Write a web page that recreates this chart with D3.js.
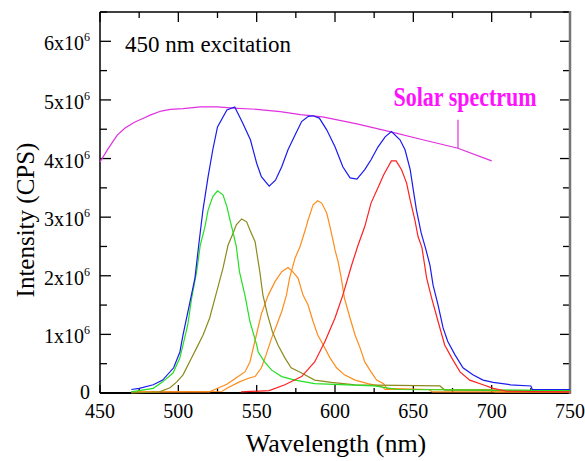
<!DOCTYPE html>
<html>
<head>
<meta charset="utf-8">
<script src="https://cdn.jsdelivr.net/npm/d3@7"></script>
<style>
  body { margin: 0; background: #fff; }
  text { font-family: "Liberation Serif", "Times New Roman", serif; fill: #000; }
</style>
</head>
<body>
<script>
// values are in units of 10^6 counts per second

var solarWl  = [450, 455, 461, 466, 472, 477, 482, 489, 495, 503, 514, 525, 535, 550, 565, 578, 592, 614, 635, 656, 678, 700];
var solarVal = [3.94, 4.16, 4.40, 4.52, 4.62, 4.68, 4.74, 4.81, 4.84, 4.85, 4.88, 4.88, 4.86, 4.84, 4.80, 4.75, 4.71, 4.59, 4.46, 4.32, 4.18, 3.96];

var blueWl  = [470, 475, 484, 490, 497, 501, 503, 507, 510.6, 513, 515.7, 519, 522, 525, 531, 536, 541, 546, 550, 553, 558, 562, 566, 570, 574.5, 578.7, 583, 586, 590, 594.7, 600, 605, 609.6, 614, 619, 623, 627.5, 632, 636, 641.5, 644.7, 648, 650, 652, 655, 658, 660.6, 662.6, 665.8, 669, 672, 676.6, 681.7, 688, 694.5, 701, 712, 725, 726, 750];
var blueVal = [0.06, 0.08, 0.14, 0.22, 0.43, 0.70, 0.99, 1.50, 1.96, 2.52, 3.12, 3.69, 4.15, 4.54, 4.83, 4.88, 4.61, 4.32, 3.92, 3.69, 3.53, 3.63, 3.86, 4.15, 4.40, 4.63, 4.72, 4.73, 4.69, 4.49, 4.20, 3.86, 3.67, 3.65, 3.81, 3.98, 4.20, 4.37, 4.46, 4.32, 4.15, 3.81, 3.46, 3.12, 2.73, 2.45, 2.18, 1.84, 1.50, 1.11, 0.88, 0.65, 0.43, 0.31, 0.22, 0.18, 0.14, 0.12, 0.06, 0.06];

var greenWl  = [470, 484, 490, 496.6, 501, 503, 506, 508.5, 511.7, 514, 517, 519, 522, 525, 528.5, 531, 533, 535, 537, 539, 542.5, 545.7, 550, 551, 555, 559.6, 566, 574.5, 587, 608, 625, 640, 700, 750];
var greenVal = [0.02, 0.08, 0.19, 0.34, 0.60, 0.82, 1.16, 1.62, 2.07, 2.52, 2.84, 3.12, 3.35, 3.45, 3.38, 3.18, 2.95, 2.73, 2.50, 2.07, 1.67, 1.22, 0.82, 0.70, 0.53, 0.39, 0.28, 0.22, 0.16, 0.14, 0.12, 0.06, 0.05, 0.04];

var oliveWl  = [470, 488, 494.7, 499, 503, 508.5, 511.7, 515.8, 520, 524.5, 528.5, 531.7, 535, 537, 540.4, 543.6, 545.7, 549, 552, 554, 557, 560, 563.6, 568, 572, 578.7, 587, 597.8, 612.8, 667, 670, 750];
var oliveVal = [0.0, 0.02, 0.09, 0.19, 0.31, 0.60, 0.77, 0.99, 1.28, 1.73, 2.13, 2.52, 2.73, 2.87, 2.97, 2.92, 2.78, 2.58, 2.07, 1.67, 1.33, 1.05, 0.82, 0.60, 0.43, 0.34, 0.22, 0.18, 0.14, 0.12, 0.05, 0.04];

var orange1Wl  = [470, 520, 525, 531, 537, 542.5, 545.7, 549, 553, 557.4, 561.7, 566, 570, 573, 576.4, 579.6, 582.8, 586, 589, 592.5, 596.8, 601, 606, 612.8, 621, 630, 632, 700, 702, 750];
var orange1Val = [0.02, 0.02, 0.08, 0.15, 0.26, 0.36, 0.53, 0.90, 1.35, 1.67, 1.90, 2.07, 2.14, 2.07, 1.96, 1.67, 1.50, 1.22, 0.99, 0.82, 0.60, 0.43, 0.31, 0.22, 0.16, 0.11, 0.06, 0.06, 0.02, 0.02];

var orange2Wl  = [470, 528, 531, 539, 545.7, 549, 553, 556, 559.6, 562.8, 566, 569, 571, 574.5, 577.7, 581, 582.8, 586, 589, 591.5, 594.7, 596.8, 598.7, 600, 602, 604, 606, 609.6, 612.8, 616, 619, 623, 626.6, 631, 633, 660, 662, 750];
var orange2Val = [0.02, 0.03, 0.08, 0.19, 0.26, 0.28, 0.43, 0.65, 0.94, 1.16, 1.39, 1.67, 1.96, 2.30, 2.50, 2.78, 2.95, 3.21, 3.28, 3.24, 3.07, 2.84, 2.61, 2.44, 2.24, 1.96, 1.62, 1.28, 0.99, 0.77, 0.53, 0.36, 0.22, 0.16, 0.08, 0.06, 0.02, 0.02];

var redWl  = [540, 558, 568, 578.7, 587, 593.6, 600, 605, 610.6, 614.7, 619, 623, 628.7, 631, 636, 639, 642.5, 645.7, 648, 651, 653, 655.5, 658.5, 661.7, 665.8, 670, 674.5, 679.8, 686, 694.5, 701, 709.6, 750];
var redVal = [0.02, 0.04, 0.14, 0.28, 0.53, 0.88, 1.28, 1.67, 2.18, 2.52, 2.84, 3.24, 3.58, 3.72, 3.96, 3.96, 3.81, 3.58, 3.29, 2.95, 2.67, 2.48, 1.96, 1.62, 1.22, 0.82, 0.60, 0.36, 0.22, 0.14, 0.08, 0.03, 0.02];

var xTicks = [450, 500, 550, 600, 650, 700, 750];
var yTicks = [0, 1, 2, 3, 4, 5, 6];
var yTickLabels = ["0", "1x10", "2x10", "3x10", "4x10", "5x10", "6x10"];

var W = 585, H = 461;
// note: "top" is reserved on window, so use plot* names
var plotL = 100, plotR = 570, plotT = 12, plotB = 393;

var svg = d3.select("body").append("svg").attr("width", W).attr("height", H);

var x = d3.scaleLinear().domain([450, 750]).range([plotL, plotR]);
var y = d3.scaleLinear().domain([0, 6.5]).range([plotB, plotT]);

// ticks, all pointing inward
var xMinor = d3.range(450, 751, 25);
var yMinor = d3.range(0, 6.51, 0.5);

var g = svg.append("g");
function isMajorX(v) { return v % 50 === 0; }
function isMajorY(v) { return Math.abs(v - Math.round(v)) < 1e-6; }

// bottom
g.selectAll(".xb").data(xMinor).enter().append("line")
  .attr("x1", function(d) { return x(d); }).attr("x2", function(d) { return x(d); })
  .attr("y1", plotB).attr("y2", function(d) { return plotB - (isMajorX(d) ? 8 : 5); })
  .attr("stroke", "#000").attr("stroke-width", 1.3);
// top
g.selectAll(".xt").data(xMinor).enter().append("line")
  .attr("x1", function(d) { return x(d); }).attr("x2", function(d) { return x(d); })
  .attr("y1", plotT).attr("y2", function(d) { return plotT + (isMajorX(d) ? 10 : 6); })
  .attr("stroke", "#000").attr("stroke-width", 1.3);
// left
g.selectAll(".yl").data(yMinor).enter().append("line")
  .attr("y1", function(d) { return y(d); }).attr("y2", function(d) { return y(d); })
  .attr("x1", plotL).attr("x2", function(d) { return plotL + (isMajorY(d) ? 11 : 7); })
  .attr("stroke", "#000").attr("stroke-width", 1.3);
// right
g.selectAll(".yr").data(yMinor).enter().append("line")
  .attr("y1", function(d) { return y(d); }).attr("y2", function(d) { return y(d); })
  .attr("x1", plotR).attr("x2", function(d) { return plotR - (isMajorY(d) ? 10 : 7); })
  .attr("stroke", "#000").attr("stroke-width", 1.3);

// frame
g.append("line").attr("x1", plotL).attr("x2", plotR).attr("y1", plotT).attr("y2", plotT).attr("stroke", "#000").attr("stroke-width", 1.5);
g.append("line").attr("x1", plotL).attr("x2", plotR).attr("y1", plotB).attr("y2", plotB).attr("stroke", "#000").attr("stroke-width", 2);
g.append("line").attr("x1", plotL).attr("x2", plotL).attr("y1", plotT).attr("y2", plotB).attr("stroke", "#000").attr("stroke-width", 1.5);
g.append("line").attr("x1", plotR).attr("x2", plotR).attr("y1", plotT - 1).attr("y2", plotB + 1).attr("stroke", "#777").attr("stroke-width", 2.5);

// tick labels
svg.selectAll(".xlab").data(xTicks).enter().append("text")
  .attr("x", function(d) { return x(d); }).attr("y", 418)
  .attr("text-anchor", "middle").style("font-size", "20px")
  .text(function(d) { return d; });

var yl = svg.selectAll(".ylab").data(yTicks).enter().append("text")
  .attr("x", 90).attr("y", function(d) { return y(d) + (d === 0 ? 6 : 9); })
  .attr("text-anchor", "end").style("font-size", "20px");
yl.append("tspan").text(function(d, i) { return yTickLabels[i]; });
yl.filter(function(d) { return d !== 0; }).append("tspan")
  .attr("dy", -9).style("font-size", "12px").text("6");

// axis titles
svg.append("text").attr("x", 336).attr("y", 452).attr("text-anchor", "middle")
  .style("font-size", "26px").text("Wavelength (nm)");
svg.append("text").attr("transform", "translate(34,220) rotate(-90)").attr("text-anchor", "middle")
  .style("font-size", "25px").text("Intensity (CPS)");

svg.append("text").attr("x", 125).attr("y", 52).style("font-size", "23px").text("450 nm excitation");

// curves
var line = d3.line().x(function(d) { return x(d[0]); }).y(function(d) { return y(d[1]); });
function draw(wl, val, color) {
  svg.append("path").datum(d3.zip(wl, val))
    .attr("d", line).attr("fill", "none").attr("stroke", color).attr("stroke-width", 1.2);
}
draw(solarWl, solarVal, "#e030e0");
draw(orange1Wl, orange1Val, "#ff8c1a");
draw(orange2Wl, orange2Val, "#ff8c1a");
draw(oliveWl, oliveVal, "#8c8a1c");
draw(greenWl, greenVal, "#22e022");
draw(redWl, redVal, "#ff2020");
draw(blueWl, blueVal, "#1a1aee");

// solar spectrum label with pointer
svg.append("line").attr("x1", x(678.5)).attr("x2", x(678.5)).attr("y1", y(4.66)).attr("y2", y(4.18))
  .attr("stroke", "#e030e0").attr("stroke-width", 1.2);
svg.append("text").attr("transform", "translate(465,106) scale(1,1.2)").attr("text-anchor", "middle")
  .style("font-size", "22px").style("font-weight", "bold").style("fill", "#ff10ff")
  .text("Solar spectrum");
</script>
</body>
</html>
